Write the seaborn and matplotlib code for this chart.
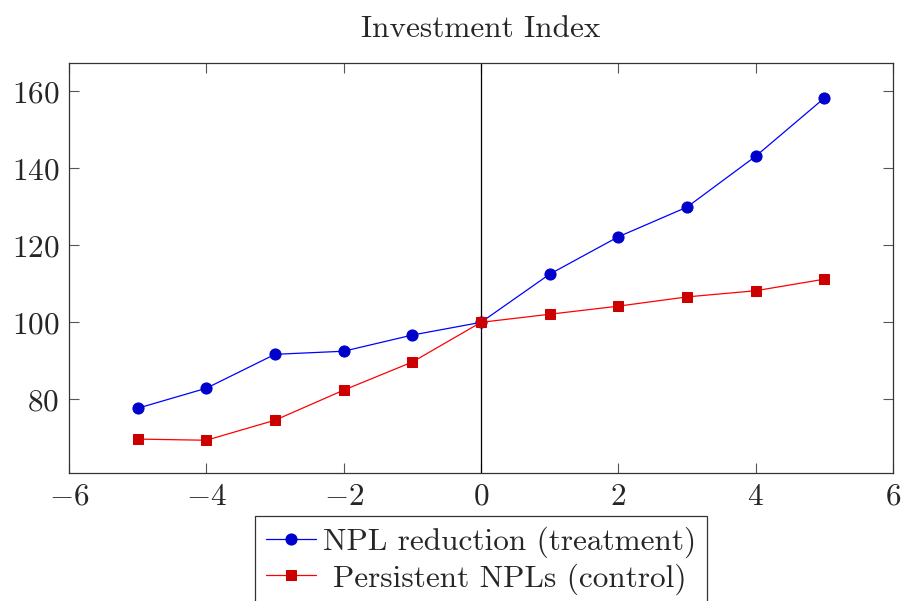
import matplotlib
matplotlib.use("Agg")
import matplotlib.pyplot as plt
import seaborn as sns
import pandas as pd

# Event time (years relative to the reform)
event_time = [-5, -4, -3, -2, -1, 0, 1, 2, 3, 4, 5]
# Investment index, base period = 100
treatment = [77.7, 82.9, 91.7, 92.5, 96.7, 100.0, 112.5, 122.2, 129.9, 143.1, 158.2]
control = [69.7, 69.4, 74.6, 82.4, 89.7, 100.0, 102.1, 104.2, 106.6, 108.2, 111.2]
series_labels = ["NPL reduction (treatment)", "Persistent NPLs (control)"]
x_ticks = [-6, -4, -2, 0, 2, 4, 6]
y_ticks = [80, 100, 120, 140, 160]

sns.set_style("ticks", {"xtick.direction": "in", "ytick.direction": "in"})
plt.rcParams["font.family"] = ["cmr10", "DejaVu Serif"]
plt.rcParams["mathtext.fontset"] = "cm"
plt.rcParams["axes.formatter.use_mathtext"] = True
plt.rcParams["axes.unicode_minus"] = True

df = pd.DataFrame({"t": event_time, "treat": treatment, "ctrl": control})

fig = plt.figure(figsize=(9.03, 6.01), dpi=100)
ax = fig.add_axes([69 / 903, 1 - 473 / 601, (893 - 69) / 903, (473 - 63) / 601])

ax.axvline(0, color="black", lw=0.9, zorder=1)

sns.lineplot(data=df, x="t", y="treat", ax=ax, color="#0000ff", lw=0.9,
             marker="o", markersize=8, markerfacecolor="#0000cc",
             markeredgecolor="#0000cc", label=series_labels[0], zorder=3)
sns.lineplot(data=df, x="t", y="ctrl", ax=ax, color="#ff0000", lw=0.9,
             marker="s", markersize=7.5, markerfacecolor="#cc0000",
             markeredgecolor="#cc0000", label=series_labels[1], zorder=3)

ax.set_xlim(-6, 6)
ax.set_ylim(60.9, 167.3)
ax.set_xticks(x_ticks)
ax.set_yticks(y_ticks)
ax.set_xlabel("")
ax.set_ylabel("")
ax.tick_params(axis="both", which="both", direction="in", length=7, width=0.8,
               color="#555555", labelsize=22.5, top=True, right=True, pad=7)
for s in ax.spines.values():
    s.set_visible(True)
    s.set_linewidth(0.9)
    s.set_color("#333333")

ax.set_title("Investment Index", fontsize=22.5, pad=19)

# Legend hangs below the axes, centred on the plot area
leg = ax.legend(loc="upper center", bbox_to_anchor=(0.5, -0.105),
                frameon=True, fancybox=False,
                edgecolor="black", fontsize=22.5, handlelength=1.6,
                handletextpad=0.25, borderpad=0.35, labelspacing=0.15,
                borderaxespad=0)
leg.get_frame().set_linewidth(0.9)

# Centre the shorter label within the text column
fig.canvas.draw()
texts = leg.get_texts()
renderer = fig.canvas.get_renderer()
widths = [t.get_window_extent(renderer).width for t in texts]
wmax = max(widths)
for t, w in zip(texts, widths):
    t.set_x((wmax - w) / 2)

fig.savefig("out.png", dpi=100)
